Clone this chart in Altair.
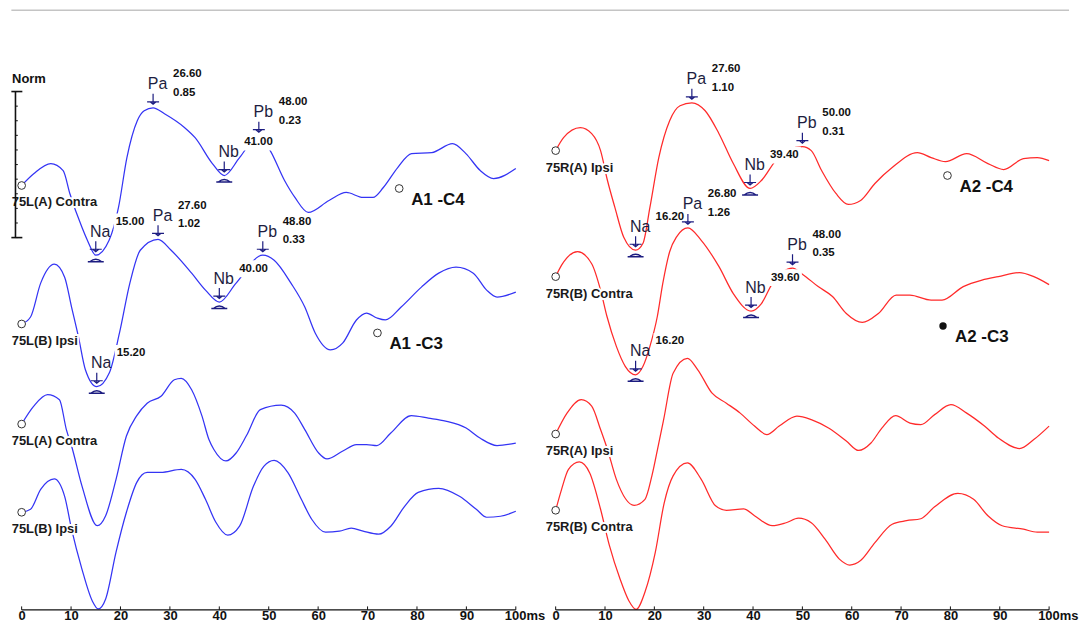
import altair as alt
import numpy as np
import pandas as pd

# ---------------- values ----------------
# time in ms, amplitude in display units (1 unit ~ 1/10 of a trace spacing)
L1_MS = [0, 2.5, 5.9, 8.4, 9.75, 12.2, 13.3, 15.0, 17.7, 19.6, 21.3, 23.4, 24.8, 26.6, 28.9, 33.0, 35.1, 38.6, 41.0, 44.1,
         48.0, 50.3, 53.2, 55.3, 58.0, 62.2, 65.7, 69.1, 71.1, 73.2, 76.1, 78.9, 83.0, 87.2, 89.9, 92.8, 95.5, 100]
L1_V = [0, 1.2, 2.2, 1.5, -0.8, -4.2, -5.5, -7.0, -5.5, -2.2, 2.8, 6.5, 7.5, 7.8, 7.2, 5.8, 4.8, 2.2, 1.0, 2.8,
        5.0, 3.5, 0.5, -1.2, -2.7, -1.5, -0.7, -1.2, -1.2, -0.2, 1.8, 3.2, 3.3, 4.2, 3.2, 1.5, 0.7, 1.7]

L2_MS = [0, 1.8, 3.85, 6.6, 8.7, 10.1, 11.5, 12.9, 15.2, 17.75, 19.8, 21.9, 24.0, 27.6, 30.25, 34.4, 37.2, 40.0, 43.4,
         48.8, 51.1, 54.5, 57.3, 59.4, 62.5, 65.0, 67.75, 69.8, 71.9, 73.6, 76.8, 80.9, 84.4, 87.9, 91.4, 94.1, 96.2, 100]
L2_V = [0, 0.7, 4.1, 6.0, 4.7, 1.7, -1.3, -4.6, -6.3, -4.9, -0.9, 4.1, 7.4, 8.5, 7.4, 5.1, 3.4, 2.2, 4.1,
        6.9, 6.4, 4.1, 1.7, -0.9, -2.6, -1.9, 0.4, 1.1, 0.6, 0.4, 1.7, 3.7, 5.1, 5.7, 5.1, 3.4, 2.7, 3.2]

L3_MS = [0, 2.45, 5.25, 7.65, 9.05, 10.1, 12.2, 15.3, 17.0, 19.1, 21.2, 23.3, 25.4, 28.2, 30.9, 32.3, 34.4, 36.5, 37.9,
         38.9, 41.35, 43.4, 45.5, 48.3, 52.5, 55.25, 57.3, 60.1, 61.8, 65.0, 67.75, 69.8, 71.9, 74.7, 78.85, 82.3, 85.8,
         89.95, 92.75, 96.2, 100]
L3_V = [0, 1.8, 2.95, 2.45, -0.55, -2.2, -6.2, -10.2, -9.2, -5.55, -1.2, 0.85, 2.1, 2.8, 4.45, 4.6, 3.45, 0.8, -1.55,
        -2.55, -3.7, -2.9, -1.15, 1.45, 1.9, 1.1, -0.55, -2.9, -3.5, -2.7, -2.05, -2.05, -2.15, -0.9, 0.85, 0.6, 0.3,
        -0.4, -1.4, -2.15, -1.9]

L4_MS = [0, 1.8, 3.85, 6.6, 8.7, 10.1, 12.2, 14.3, 15.5, 17.0, 19.1, 21.2, 23.3, 25.4, 28.2, 32.3, 35.1, 37.2, 39.3,
         41.7, 44.1, 46.9, 49.0, 51.1, 53.85, 56.6, 58.7, 61.5, 64.3, 66.7, 69.1, 72.25, 74.7, 77.5, 80.25, 84.4, 88.6,
         92.0, 94.1, 96.9, 100]
L4_V = [0, 0.3, 2.3, 3.35, 1.6, -1.7, -5.7, -8.9, -9.7, -8.7, -4.0, 0, 3.0, 4.0, 4.0, 4.3, 3.3, 1.3, -1.0,
        -2.3, -1.4, 2.6, 4.6, 5.2, 4.0, 1.3, -0.7, -2.0, -1.9, -1.6, -1.9, -2.2, -1.4, 0.6, 2.0, 2.4, 1.6,
        0.3, -0.5, -0.4, 0.1]

R1_MS = [0, 1.6, 5.0, 7.3, 9.1, 10.5, 12.0, 13.8, 16.2, 17.7, 19.1, 20.9, 23.1, 25.2, 27.6, 30.3, 33.1, 36.0, 39.4,
         41.7, 44.6, 47.2, 50.0, 51.8, 53.9, 56.8, 59.3, 61.8, 64.7, 68.2, 73.3, 76.1, 79.0, 83.3, 87.6, 90.8, 94.8,
         97.6, 100]
R1_V = [0, 1.3, 2.3, 1.7, 0, -3.0, -5.7, -8.7, -10.0, -9.3, -5.7, -0.7, 3.0, 4.5, 4.8, 4.0, 1.7, -1.3, -3.8,
        -3.0, -1.0, 0.1, 0.4, 0, -2.0, -4.3, -5.4, -5.0, -3.3, -1.7, -0.2, -0.7, -1.1, -0.3, -1.3, -1.9, -0.8,
        -0.7, -1.0]

R2_MS = [0, 1.2, 4.45, 7.3, 9.1, 10.4, 12.3, 14.1, 16.2, 17.7, 19.1, 20.6, 21.7, 23.1, 24.5, 26.8, 29.5, 33.1, 36.0,
         39.6, 41.7, 43.9, 48.0, 50.0, 53.2, 56.1, 58.9, 62.15, 65.4, 69.0, 71.8, 76.1, 78.3, 82.6, 86.4, 89.7, 94.0,
         96.9, 100]
R2_V = [0, 1.15, 2.5, 1.3, -1.35, -4.0, -7.0, -9.0, -9.85, -9.0, -7.0, -4.0, -0.7, 2.5, 4.0, 4.9, 3.65, 1.0, -1.7,
        -3.45, -2.7, -0.7, 0.85, 0.25, -1.0, -2.0, -3.7, -4.6, -3.7, -1.85, -1.85, -2.35, -2.35, -1.0, -0.35, 0, 0.4,
        0, -0.8]

R3_MS = [0, 2.3, 5.2, 7.3, 9.1, 10.5, 12.3, 15.9, 18.1, 19.5, 20.9, 21.9, 23.8, 26.7, 28.8, 31.7, 34.6, 37.4, 40.3,
         42.8, 45.3, 48.9, 51.8, 55.3, 58.9, 61.4, 63.9, 66.1, 68.9, 71.8, 74.0, 76.8, 80.1, 83.3, 86.9, 89.7, 94.0,
         96.9, 100]
R3_V = [0, 2.1, 3.45, 2.8, 0.45, -1.55, -4.55, -7.15, -6.55, -4.2, -0.9, 1.5, 6.1, 7.6, 6.45, 4.1, 3.1, 2.1, 0.8,
        -0.05, 0.8, 1.8, 1.45, 0.6, -0.7, -1.65, -0.9, 0.6, 1.85, 1.1, 0.95, 1.95, 2.95, 2.1, 0.8, -0.4, -1.45,
        -0.55, 0.8]

R4_MS = [0, 1.2, 2.6, 4.8, 6.9, 9.1, 10.9, 13.05, 14.8, 16.3, 18.1, 20.2, 22.0, 23.8, 26.7, 29.5, 32.4, 34.6, 38.1,
         40.3, 43.9, 46.7, 49.2, 51.8, 54.6, 57.5, 59.6, 61.8, 64.7, 68.2, 71.1, 74.0, 76.8, 81.5, 84.7, 87.6, 90.5,
         94.8, 97.6, 100]
R4_V = [0, 2.1, 4.1, 4.85, 3.75, 0.1, -3.55, -6.9, -9.05, -9.95, -8.2, -4.2, 0.75, 3.45, 4.75, 3.1, 0.45, 0, 0.15,
        -0.55, -1.55, -1.25, -0.8, -1.25, -2.9, -4.9, -5.5, -5.05, -3.25, -1.4, -1.05, -0.85, 0.35, 1.7, 1.1, -0.55,
        -1.55, -1.9, -2.2, -2.2]

NAMES_L = ["75L(A) Contra", "75L(B) Ipsi", "75L(A) Contra", "75L(B) Ipsi"]
NAMES_R = ["75R(A) Ipsi", "75R(B) Contra", "75R(A) Ipsi", "75R(B) Contra"]
OFFSETS_L = [42.6, 28.7, 18.65, 9.8]
OFFSETS_R = [46.1, 33.45, 17.65, 10.0]

PEAK_NAMES = ["Na", "Pa", "Nb", "Pb", "Na", "Pa", "Nb", "Pb"]
PEAK_TRACE = [0, 0, 0, 0, 1, 1, 1, 1]
PEAK_L_LAT = [15.00, 26.60, 41.00, 48.00, 15.20, 27.60, 40.00, 48.80]
PEAK_L_AMP = ["", "0.85", "", "0.23", "", "1.02", "", "0.33"]
PEAK_R_LAT = [16.20, 27.60, 39.40, 50.00, 16.20, 26.80, 39.60, 48.00]
PEAK_R_AMP = ["", "1.10", "", "0.31", "", "1.26", "", "0.35"]

GROUP_L_TEXT = ["A1 -C4", "A1 -C3"]
GROUP_L_MS = [76.4, 72.0]
GROUP_L_V = [42.3, 27.8]
GROUP_L_FILLED = [False, False]
GROUP_R_TEXT = ["A2 -C4", "A2 -C3"]
GROUP_R_MS = [79.4, 78.5]
GROUP_R_V = [43.6, 28.5]
GROUP_R_FILLED = [False, True]

X_TICKS = [0, 10, 20, 30, 40, 50, 60, 70, 80, 90]
TICK_MARKS = [0, 10, 20, 30, 40, 50, 60, 70, 80, 90, 100]
END_LABEL = "100ms"

NORM_TOP = 52.03
NORM_STEP = 1.466
NORM_STEPS = 10

# ---------------- styling / layout ----------------
FONT = "Liberation Sans"
NAVY = "#1c1c80"
BLUE = "#3434f4"
RED = "#ff2a2a"
YMAX = 60.3
HEIGHT = 603
ARROW = "M0,-14L0,-4M-6,-6L6,-6M-3,-6L0,-3.5L3,-6"
ARCH = "M-8,6.5L8,6.5M-6,6.5Q0,1.5 6,6.5"
AXIS_FS = 13

AXIS = alt.Axis(values=X_TICKS, domain=False, ticks=False, tickSize=0, grid=False, title=None,
                labelFont=FONT, labelFontSize=AXIS_FS, labelFontWeight="bold", labelColor="#111111",
                labelPadding=0, labelAngle=0, labelFlush=False, labelOverlap=False)


def panel(ms_lists, v_lists, offsets, names, color, lats, amps, g_text, g_ms, g_v, g_filled,
          xdom, width, top_start, with_norm):
    xs = alt.Scale(domain=xdom, nice=False, zero=False)
    ys = alt.Scale(domain=[0, YMAX], nice=False, zero=False)

    def X(f):
        return alt.X(f, scale=xs, axis=AXIS)

    def Y(f):
        return alt.Y(f, scale=ys, axis=None)

    rows = []
    for i, (ms, vv) in enumerate(zip(ms_lists, v_lists)):
        for a, b in zip(ms, vv):
            rows.append({"ms": a, "v": b + offsets[i], "trace": i})
    tr = pd.DataFrame(rows)

    starts = pd.DataFrame({"ms": [0] * len(names), "v": offsets, "label": names})

    ann_rows = []
    for t, nm, lat, amp in zip(PEAK_TRACE, PEAK_NAMES, lats, amps):
        val = float(np.interp(lat, ms_lists[t], v_lists[t])) + offsets[t]
        ann_rows.append({"ms": lat, "v": val, "name": nm, "lat": f"{lat:.2f}", "amp": amp,
                         "kind": "trough" if nm.startswith("N") else "peak"})
    ann = pd.DataFrame(ann_rows)
    troughs = ann[ann["kind"] == "trough"]
    peaks = ann[ann["kind"] == "peak"]

    groups = pd.DataFrame({"ms": g_ms, "v": g_v, "text": g_text, "filled": g_filled})

    layers = []
    layers.append(
        alt.Chart(tr).mark_line(color=color, strokeWidth=1.25, interpolate="monotone")
        .encode(x=X("ms:Q"), y=Y("v:Q"), detail="trace:N")
    )
    layers.append(
        alt.Chart(pd.DataFrame({"ms": [top_start], "x2": [xdom[1]], "y": [YMAX - 0.1]}))
        .mark_rule(color="#c4c4c4", strokeWidth=1.5)
        .encode(x=X("ms:Q"), x2="x2:Q", y=Y("y:Q"))
    )
    # white boxes behind latency labels
    layers.append(
        alt.Chart(ann).mark_rect(color="white", xOffset=18, x2Offset=51, yOffset=-42, y2Offset=-25)
        .encode(x=X("ms:Q"), x2="ms:Q", y=Y("v:Q"), y2="v:Q")
    )
    # trace labels with halo
    layers.append(
        alt.Chart(starts).mark_text(align="left", baseline="alphabetic", dx=-10, dy=21, font=FONT,
                                    fontSize=13, fontWeight="bold", color="white", stroke="white",
                                    strokeWidth=4)
        .encode(x=X("ms:Q"), y=Y("v:Q"), text="label:N")
    )
    layers.append(
        alt.Chart(starts).mark_text(align="left", baseline="alphabetic", dx=-10, dy=21, font=FONT,
                                    fontSize=13, fontWeight="bold", color="#1a1a1a")
        .encode(x=X("ms:Q"), y=Y("v:Q"), text="label:N")
    )
    layers.append(
        alt.Chart(starts).mark_point(shape="circle", size=60, filled=True, fill="white", stroke="#333333",
                                     strokeWidth=1, opacity=1)
        .encode(x=X("ms:Q"), y=Y("v:Q"))
    )
    # peak markers
    layers.append(
        alt.Chart(ann).mark_point(shape=ARROW, size=4, filled=False, color=NAVY, strokeWidth=1.2, opacity=1)
        .encode(x=X("ms:Q"), y=Y("v:Q"))
    )
    layers.append(
        alt.Chart(troughs).mark_point(shape=ARCH, size=4, filled=False, color=NAVY, strokeWidth=1.4, opacity=1)
        .encode(x=X("ms:Q"), y=Y("v:Q"))
    )
    layers.append(
        alt.Chart(ann).mark_text(align="center", baseline="alphabetic", dx=4.5, dy=-18.5, font=FONT,
                                 fontSize=16, color="#1d1d40")
        .encode(x=X("ms:Q"), y=Y("v:Q"), text="name:N")
    )
    layers.append(
        alt.Chart(ann).mark_text(align="left", baseline="alphabetic", dx=20, dy=-30.5, font=FONT,
                                 fontSize=11.5, fontWeight="bold", color="#111111")
        .encode(x=X("ms:Q"), y=Y("v:Q"), text="lat:N")
    )
    layers.append(
        alt.Chart(peaks).mark_text(align="left", baseline="alphabetic", dx=20, dy=-12, font=FONT,
                                   fontSize=11.5, fontWeight="bold", color="#111111")
        .encode(x=X("ms:Q"), y=Y("v:Q"), text="amp:N")
    )
    # montage labels
    layers.append(
        alt.Chart(groups[~groups["filled"]]).mark_point(shape="circle", size=60, filled=True, fill="white",
                                                        stroke="#333333", strokeWidth=1, opacity=1)
        .encode(x=X("ms:Q"), y=Y("v:Q"))
    )
    if groups["filled"].any():
        layers.append(
            alt.Chart(groups[groups["filled"]]).mark_point(shape="circle", size=55, filled=True,
                                                           color="#111111", opacity=1)
            .encode(x=X("ms:Q"), y=Y("v:Q"))
        )
    layers.append(
        alt.Chart(groups).mark_text(align="left", baseline="alphabetic", dx=12, dy=16.5, font=FONT,
                                    fontSize=17, fontWeight="bold", color="#111111")
        .encode(x=X("ms:Q"), y=Y("v:Q"), text="text:N")
    )
    # time axis line, ticks, end label
    layers.append(
        alt.Chart(pd.DataFrame({"ms": [TICK_MARKS[0]], "x2": [TICK_MARKS[-1]], "y": [0]}))
        .mark_rule(color="#111111", strokeWidth=1.4)
        .encode(x=X("ms:Q"), x2="x2:Q", y=Y("y:Q"))
    )
    layers.append(
        alt.Chart(pd.DataFrame({"ms": TICK_MARKS, "y": [0] * len(TICK_MARKS), "y2": [0.35] * len(TICK_MARKS)}))
        .mark_rule(color="#111111", strokeWidth=1)
        .encode(x=X("ms:Q"), y=Y("y:Q"), y2="y2:Q")
    )
    layers.append(
        alt.Chart(pd.DataFrame({"ms": [TICK_MARKS[-1]], "y": [0], "t": [END_LABEL]}))
        .mark_text(align="left", baseline="top", dx=-11, dy=0, font=FONT, fontSize=AXIS_FS,
                   fontWeight="bold", color="#111111")
        .encode(x=X("ms:Q"), y=Y("y:Q"), text="t:N")
    )
    if with_norm:
        ticks_y = [NORM_TOP - i * NORM_STEP for i in range(NORM_STEPS + 1)]
        bot = ticks_y[-1]
        layers.append(
            alt.Chart(pd.DataFrame({"ms": [-1.25], "y": [NORM_TOP], "y2": [bot]}))
            .mark_rule(color="#111111", strokeWidth=1.6)
            .encode(x=X("ms:Q"), y=Y("y:Q"), y2="y2:Q")
        )
        layers.append(
            alt.Chart(pd.DataFrame({"ms": [-2.08, -2.08], "x2": [0.14, 0.14], "y": [NORM_TOP, bot]}))
            .mark_rule(color="#111111", strokeWidth=1.6)
            .encode(x=X("ms:Q"), x2="x2:Q", y=Y("y:Q"))
        )
        layers.append(
            alt.Chart(pd.DataFrame({"ms": [-1.25] * len(ticks_y), "x2": [-0.77] * len(ticks_y), "y": ticks_y}))
            .mark_rule(color="#111111", strokeWidth=1)
            .encode(x=X("ms:Q"), x2="x2:Q", y=Y("y:Q"))
        )
        layers.append(
            alt.Chart(pd.DataFrame({"ms": [-1.94], "y": [52.9], "t": ["Norm"]}))
            .mark_text(align="left", baseline="alphabetic", font=FONT, fontSize=13, fontWeight="bold",
                       color="#111111")
            .encode(x=X("ms:Q"), y=Y("y:Q"), text="t:N")
        )
    return alt.layer(*layers).properties(width=width, height=HEIGHT)


left = panel([L1_MS, L2_MS, L3_MS, L4_MS], [L1_V, L2_V, L3_V, L4_V], OFFSETS_L, NAMES_L, BLUE,
             PEAK_L_LAT, PEAK_L_AMP, GROUP_L_TEXT, GROUP_L_MS, GROUP_L_V, GROUP_L_FILLED,
             [-2.762, 103.69], 528, -2.08, True)
right = panel([R1_MS, R2_MS, R3_MS, R4_MS], [R1_V, R2_V, R3_V, R4_V], OFFSETS_R, NAMES_R, RED,
              PEAK_R_LAT, PEAK_R_AMP, GROUP_R_TEXT, GROUP_R_MS, GROUP_R_V, GROUP_R_FILLED,
              [-4.384, 104.04], 537, -4.384, False)

chart = (
    alt.hconcat(left, right, spacing=0, bounds="flush")
    .properties(padding=0)
    .configure(font=FONT, background="white")
    .configure_view(strokeWidth=0, stroke="transparent")
)

chart.save("out.html", embed_options={"renderer": "svg", "actions": False})
